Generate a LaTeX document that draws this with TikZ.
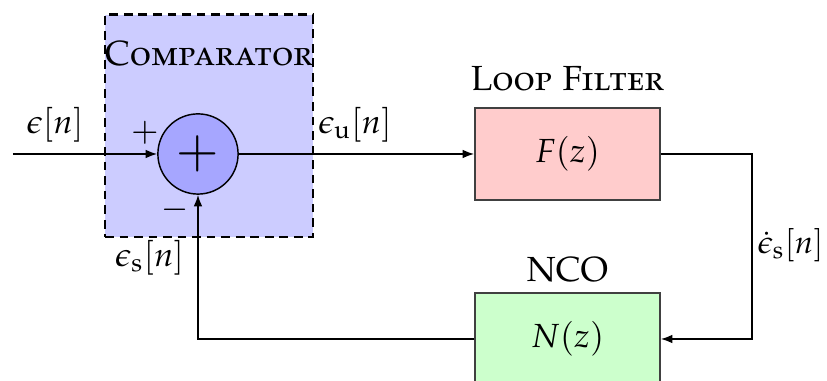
\documentclass[tikz,border=0pt]{standalone}
\usepackage[T1]{fontenc}
\usepackage[sc]{mathpazo}
\usetikzlibrary{positioning,arrows.meta}
\begin{document}
\begin{tikzpicture}[node distance={1mm}, >={Latex[length=4pt,width=3pt]}, line width=0.5pt,
    font=\fontsize{11.5}{14}\selectfont,
    block/.style = {draw=black!75, minimum width=2.24cm, minimum height=1.11cm},
    title/.style = {inner sep=1pt, font=\fontsize{12}{14}\selectfont},
    sumnode/.style = {draw, circle, fill=blue!35, minimum size=0.97cm, inner sep=0pt}]
  \useasboundingbox (0,0) rectangle (10,-4.595);
  \node[draw, line width=1pt, dash pattern=on 3pt off 2pt, fill=blue!20,
        minimum width=2.515cm, minimum height=2.685cm] (cmp) at (2.527,-1.523) {};
  \node[title] (cmptxt) at (2.527,-0.64) {\textsc{Comparator}};
  \node[sumnode] (sum) at (2.394,-1.862) {\fontsize{18}{20}\selectfont$+$};
  \node[block, fill=red!20] (lf) at (6.862,-1.862) {$F(z)$};
  \node[block, fill=green!20] (nco) at (6.862,-4.099) {$N(z)$};
  \node[title, above=4.2pt of lf] (lftxt) {\textsc{Loop Filter}};
  \node[title, above=2.1pt of nco] (ncotxt) {NCO};
  \coordinate (in) at (0.157,-1.862);
  \coordinate (rt) at (9.093,-3);
  \draw[->] (in) -- (sum);
  \draw[->] (sum) -- (lf);
  \draw[->] (lf.east) -| (rt) |- (nco.east);
  \draw[->] (nco.west) -| (sum.south);
  \node (ein) at (0.665,-1.511) {$\epsilon[n]$};
  \node (eu) at (4.293,-1.511) {$\epsilon_{\mathrm{u}}[n]$};
  \node (es) at (1.81,-3.12) {$\epsilon_{\mathrm{s}}[n]$};
  \node[anchor=east, inner sep=1pt, font=\fontsize{11}{13}\selectfont] (esdot) at (10,-2.962) {$\dot{\epsilon}_{\mathrm{s}}[n]$};
  \node (plus) at (1.753,-1.608) {$+$};
  \node (minus) at (2.116,-2.539) {$-$};
\end{tikzpicture}
\end{document}
